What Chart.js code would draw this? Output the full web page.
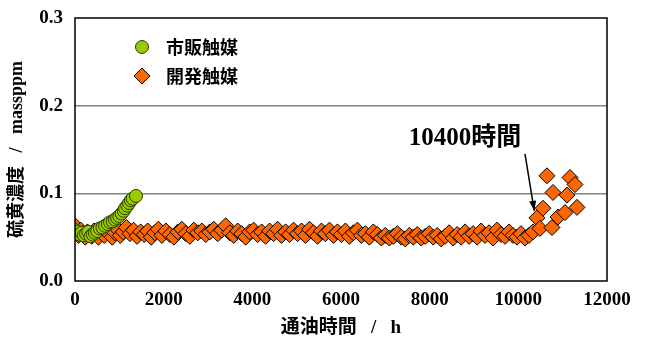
<!DOCTYPE html>
<html><head><meta charset="utf-8">
<script src="https://cdn.jsdelivr.net/npm/chart.js@4/dist/chart.umd.min.js"></script>
<style>html,body{margin:0;padding:0;background:#fff}#wrap{width:646px;height:340px}</style>
</head><body><div id="wrap"><canvas id="c" width="646" height="340"></canvas></div>
<script>
const seriesNames = ['市販触媒', '開発触媒'];
const commercialHours = [0,30,60,100,150,200,250,300,350,400,450,500,560,620,680,740,790,850,900,950,1000,1050,1100,1130,1180,1220,1260,1300,1376];
const commercialSulfur = [0.058,0.054,0.056,0.053,0.055,0.052,0.054,0.056,0.051,0.053,0.055,0.057,0.060,0.061,0.063,0.065,0.067,0.068,0.070,0.072,0.074,0.077,0.080,0.083,0.086,0.089,0.092,0.094,0.097];
const developedHours = [
 0,40,80,130,180,230,280,330,380,430,480,530,
 600,660,720,780,840,900,960,1020,1090,1160,
 1240,1320,1400,1480,1560,1640,1720,1800,1880,1960,
 2050,2140,2230,2320,2410,2500,2590,2680,2770,2860,2950,
 3040,3130,3220,3310,3400,3490,3580,3670,3760,3850,3940,
 4030,4120,4210,4300,4390,4480,4570,4660,4750,4840,4930,
 5020,5110,5200,5290,5380,5470,5560,5650,5740,5830,5920,
 6010,6100,6190,6280,6370,6460,6550,6640,6730,6820,6910,
 7000,7090,7180,7270,7360,7450,7540,7630,7720,7810,7900,
 7990,8080,8170,8260,8350,8440,8530,8620,8710,8800,8890,
 8980,9070,9160,9250,9340,9430,9520,9610,9700,9790,9880,
 9970,10060,10150,10240,
 10330,10420,10489,10556,10646,10759,10782,10895,11052,11098,11165,11278,11323];
const developedSulfur = [
 0.063,0.055,0.052,0.058,0.054,0.050,0.056,0.053,0.051,0.057,0.054,0.050,
 0.056,0.052,0.058,0.053,0.050,0.055,0.059,0.052,0.056,0.061,
 0.054,0.058,0.051,0.056,0.053,0.057,0.050,0.055,0.059,0.052,
 0.057,0.053,0.050,0.056,0.059,0.054,0.051,0.058,0.055,0.057,0.053,
 0.056,0.059,0.054,0.058,0.063,0.055,0.052,0.057,0.054,0.050,0.056,
 0.058,0.053,0.056,0.051,0.057,0.054,0.059,0.052,0.056,0.053,0.058,
 0.054,0.057,0.052,0.059,0.055,0.051,0.057,0.054,0.058,0.052,0.056,
 0.053,0.057,0.051,0.055,0.058,0.052,0.054,0.050,0.056,0.053,0.049,
 0.052,0.049,0.051,0.054,0.050,0.048,0.052,0.050,0.053,0.049,0.051,
 0.054,0.050,0.052,0.048,0.051,0.055,0.049,0.053,0.050,0.056,0.051,
 0.054,0.050,0.057,0.052,0.055,0.049,0.058,0.053,0.051,0.056,0.052,
 0.050,0.054,0.049,0.052,
 0.056,0.072,0.060,0.083,0.120,0.061,0.101,0.073,0.078,0.098,0.118,0.110,0.084];
const xTicks = [0,2000,4000,6000,8000,10000,12000];
const yTicks = [0.0,0.1,0.2,0.3];
const annotationText = '10400時間';
const annotationFrom = {x:10150, y:0.145};
const annotationTo = {x:10360, y:0.080};

const serif = "'Liberation Serif','Noto Sans CJK JP',serif";
const cjk = "'Noto Sans CJK JP','Liberation Serif',sans-serif";

const overlay = {
  id:'overlay',
  afterDraw(chart){
    const ctx = chart.ctx, a = chart.chartArea, xs = chart.scales.x, ys = chart.scales.y;
    ctx.save();
    ctx.strokeStyle = '#000'; ctx.lineWidth = 1.5;
    ctx.strokeRect(a.left, a.top, a.right - a.left, a.bottom - a.top);
    const ds = chart.data.datasets;
    const lx = a.left + 67, ly = [a.top + 29, a.top + 58];
    ds.forEach((d, i) => {
      const cx = lx, cy = ly[i];
      ctx.fillStyle = d.backgroundColor; ctx.strokeStyle = d.borderColor; ctx.lineWidth = 1;
      ctx.beginPath();
      if (d.pointStyle === 'circle') { ctx.arc(cx, cy, 6.5, 0, Math.PI*2); }
      else { ctx.moveTo(cx, cy-8); ctx.lineTo(cx+8, cy); ctx.lineTo(cx, cy+8); ctx.lineTo(cx-8, cy); ctx.closePath(); }
      ctx.fill(); ctx.stroke();
      ctx.fillStyle = '#000'; ctx.font = 'bold 18px ' + cjk; ctx.textBaseline = 'middle'; ctx.textAlign = 'left';
      ctx.fillText(d.label, cx + 24, cy);
    });
    const x1 = xs.getPixelForValue(annotationFrom.x), y1 = ys.getPixelForValue(annotationFrom.y);
    const x2 = xs.getPixelForValue(annotationTo.x), y2 = ys.getPixelForValue(annotationTo.y);
    ctx.strokeStyle = '#000'; ctx.lineWidth = 1.5;
    ctx.beginPath(); ctx.moveTo(x1, y1); ctx.lineTo(x2, y2); ctx.stroke();
    const ang = Math.atan2(y2 - y1, x2 - x1);
    ctx.fillStyle = '#000'; ctx.beginPath();
    ctx.moveTo(x2, y2);
    ctx.lineTo(x2 - 10*Math.cos(ang) + 3.5*Math.sin(ang), y2 - 10*Math.sin(ang) - 3.5*Math.cos(ang));
    ctx.lineTo(x2 - 10*Math.cos(ang) - 3.5*Math.sin(ang), y2 - 10*Math.sin(ang) + 3.5*Math.cos(ang));
    ctx.closePath(); ctx.fill();
    ctx.font = 'bold 25px ' + serif; ctx.textAlign = 'center'; ctx.textBaseline = 'middle';
    ctx.fillText(annotationText, 465, y1 - 15);
    ctx.restore();
  }
};

new Chart(document.getElementById('c'), {
  type: 'scatter',
  data: {
    datasets: [
      { label: seriesNames[0], data: commercialHours.map((h,i)=>({x:h, y:commercialSulfur[i]})),
        pointStyle:'circle', pointRadius:6.5, backgroundColor:'#99CC00', borderColor:'#2E3A00', borderWidth:1 },
      { label: seriesNames[1], data: developedHours.map((h,i)=>({x:h, y:developedSulfur[i]})),
        pointStyle:'rectRot', pointRadius:8, backgroundColor:'#FF6600', borderColor:'#000000', borderWidth:1 }
    ]
  },
  options: {
    responsive:false, animation:false, devicePixelRatio:1,
    layout:{padding:{left:0, right:39, top:18, bottom:0}},
    plugins:{legend:{display:false}, tooltip:{enabled:false}},
    scales:{
      x:{ type:'linear', min:0, max:12000,
          afterBuildTicks(s){ s.ticks = xTicks.map(v=>({value:v})); },
          afterFit(s){ s.height = 59; s.paddingLeft = 0; s.paddingRight = 0; },
          grid:{display:false, drawTicks:false},
          border:{display:false},
          ticks:{ padding:8, color:'#000', font:{family:serif, size:19, weight:'bold'}, maxRotation:0,
                  callback:v=>String(v) },
          title:{display:true, text:'通油時間   /   h', color:'#000', font:{family:serif, size:19, weight:'bold'}, padding:{top:0,bottom:1}}
      },
      y:{ type:'linear', min:0, max:0.3,
          afterBuildTicks(s){ s.ticks = yTicks.map(v=>({value:v})); },
          afterFit(s){ s.width = 75; s.paddingTop = 0; s.paddingBottom = 0; },
          grid:{ color:(c)=> (c.tick && (c.tick.value===0.1 || Math.abs(c.tick.value-0.2)<1e-9)) ? '#808080' : 'rgba(0,0,0,0)', lineWidth:1.5, drawTicks:false },
          border:{display:false},
          ticks:{ padding:12, color:'#000', font:{family:serif, size:19, weight:'bold'}, callback:v=>Number(v).toFixed(1) },
          title:{display:true, text:'硫黄濃度   /   massppm', color:'#000', font:{family:serif, size:18, weight:'bold'}, padding:{top:7,bottom:0}}
      }
    }
  },
  plugins:[overlay]
});
</script></body></html>
